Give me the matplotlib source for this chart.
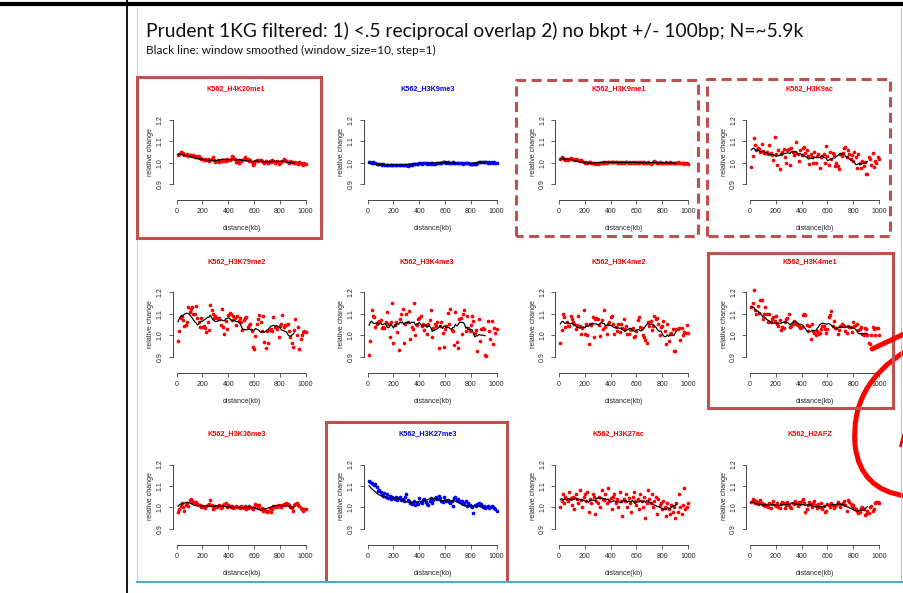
import numpy as np
import matplotlib
matplotlib.use("Agg")
import matplotlib.pyplot as plt
from matplotlib.path import Path
from matplotlib.patches import PathPatch

plt.rcParams['lines.scale_dashes'] = False

W, H = 904, 593

# ---------------- data ----------------
distance_kb = np.arange(10, 1001, 10)

panel_names = ["K562_H4K20me1", "K562_H3K9me3", "K562_H3K9me1", "K562_H3K9ac",
               "K562_H3K79me2", "K562_H3K4me3", "K562_H3K4me2", "K562_H3K4me1",
               "K562_H3K36me3", "K562_H3K27me3", "K562_H3K27ac", "K562_H2AFZ"]
panel_colors = ["#FF0000", "#0000FF", "#FF0000", "#FF0000",
                "#FF0000", "#FF0000", "#FF0000", "#FF0000",
                "#FF0000", "#0000FF", "#FF0000", "#FF0000"]

h4k20me1 = [1.035, 1.040, 1.050, 1.048, 1.045, 1.038, 1.035, 1.040, 1.032, 1.038,
            1.035, 1.030, 1.038, 1.028, 1.032, 1.025, 1.030, 1.022, 1.020, 1.018,
            1.015, 1.020, 1.012, 1.018, 1.010, 1.015, 1.020, 1.025, 1.012, 1.005,
            1.008, 1.012, 1.005, 1.010, 1.015, 1.008, 1.012, 1.010, 1.018, 1.012,
            1.015, 1.020, 1.030, 1.025, 1.018, 1.005, 1.010, 1.000, 1.012, 1.008,
            1.015, 1.020, 1.025, 1.018, 1.020, 1.010, 1.015, 1.005, 0.988, 0.995,
            1.010, 1.015, 1.008, 1.012, 1.015, 1.010, 1.005, 1.000, 1.008, 1.005,
            1.000, 1.010, 1.005, 1.012, 1.008, 1.000, 1.005, 1.010, 0.995, 1.000,
            1.005, 1.010, 1.020, 1.015, 1.010, 1.005, 1.000, 1.008, 1.002, 1.005,
            0.998, 1.005, 1.000, 0.995, 1.002, 1.000, 0.995, 0.992, 1.000, 0.995]

h3k9me3 = [1.005, 1.003, 1.000, 1.002, 0.998, 0.998, 0.995, 0.996, 0.993, 0.994,
           0.992, 0.993, 0.991, 0.992, 0.990, 0.991, 0.990, 0.992, 0.989, 0.990,
           0.990, 0.991, 0.989, 0.990, 0.988, 0.990, 0.991, 0.989, 0.990, 0.988,
           0.987, 0.990, 0.992, 0.991, 0.994, 0.993, 0.995, 0.994, 0.996, 0.997,
           0.999, 0.996, 0.998, 0.997, 0.999, 0.996, 0.998, 0.995, 0.997, 0.998,
           0.994, 0.996, 0.998, 0.997, 0.999, 0.998, 1.000, 1.003, 1.006, 1.002,
           1.000, 1.003, 1.001, 0.999, 1.000, 1.002, 0.999, 1.000, 1.001, 0.998,
           0.999, 0.997, 0.998, 0.996, 0.998, 0.997, 0.999, 0.998, 0.996, 0.995,
           0.994, 0.996, 0.993, 0.995, 0.997, 1.002, 1.004, 1.003, 1.002, 1.004,
           1.002, 1.003, 1.001, 1.002, 1.000, 1.003, 1.001, 1.002, 1.000, 0.999]

h3k9me1 = [1.020, 1.025, 1.022, 1.018, 1.015, 1.020, 1.012, 1.018, 1.022, 1.020,
           1.018, 1.015, 1.017, 1.013, 1.015, 1.010, 1.012, 1.008, 1.005, 1.000,
           1.003, 1.000, 1.005, 1.002, 1.000, 0.998, 1.000, 0.996, 0.998, 0.995,
           0.997, 1.000, 0.998, 1.002, 1.000, 1.003, 1.001, 1.004, 1.002, 1.005,
           1.003, 1.006, 1.004, 1.002, 1.005, 1.000, 1.003, 0.998, 1.002, 1.000,
           1.004, 1.002, 1.005, 1.000, 1.003, 0.998, 1.002, 1.000, 1.004, 1.001,
           1.003, 1.000, 1.005, 1.002, 0.999, 1.003, 1.001, 0.998, 1.002, 0.997,
           0.995, 1.000, 1.003, 1.007, 1.004, 1.000, 0.998, 1.002, 1.000, 0.997,
           1.001, 0.998, 1.003, 0.999, 1.000, 1.002, 0.998, 1.001, 1.000, 0.998,
           1.000, 1.002, 0.999, 0.997, 1.001, 0.998, 0.996, 0.999, 0.997, 0.995]

h3k9ac = [0.980, 1.030, 1.115, 1.085, 1.060, 1.070, 1.065, 1.050, 1.090, 1.055,
          1.048, 1.045, 1.050, 1.040, 1.085, 1.045, 1.035, 1.015, 1.120, 1.040,
          0.990, 1.060, 0.970, 1.040, 1.050, 1.065, 1.025, 1.000, 1.060, 1.065,
          0.990, 1.070, 1.050, 1.035, 1.045, 1.095, 1.040, 1.010, 1.060, 1.035,
          1.070, 1.075, 1.045, 1.060, 1.030, 0.995, 1.040, 1.025, 1.000, 1.050,
          1.000, 1.030, 1.040, 0.975, 1.025, 1.030, 1.040, 1.000, 1.080, 1.030,
          0.990, 1.050, 1.020, 1.045, 1.035, 0.985, 1.000, 0.985, 0.970, 1.040,
          1.030, 1.045, 1.070, 1.075, 1.025, 1.060, 1.040, 1.020, 1.035, 1.010,
          1.050, 1.025, 0.975, 1.040, 1.000, 0.975, 1.010, 0.985, 1.005, 0.950,
          0.950, 1.025, 1.020, 0.990, 1.045, 0.980, 1.010, 1.000, 1.025, 1.020]

h3k79me2 = [0.975, 1.020, 1.080, 1.090, 1.070, 1.045, 1.050, 1.060, 1.130, 1.110,
            1.125, 1.130, 1.100, 1.100, 1.135, 1.080, 1.060, 1.040, 1.080, 1.040,
            1.045, 1.035, 1.015, 1.060, 1.025, 1.140, 1.120, 1.100, 1.080, 1.090,
            1.080, 1.075, 1.080, 1.050, 1.125, 1.040, 1.005, 1.065, 1.030, 1.095,
            1.105, 1.100, 1.070, 1.090, 1.080, 1.050, 1.090, 1.065, 1.080, 1.060,
            1.025, 1.070, 1.080, 1.085, 1.040, 1.050, 1.055, 1.020, 0.945, 0.935,
            0.995, 1.055, 1.075, 1.095, 1.060, 1.020, 1.090, 0.970, 0.940, 1.020,
            0.965, 1.025, 1.030, 1.020, 1.085, 1.040, 1.040, 1.030, 0.990, 1.045,
            1.055, 1.095, 1.040, 1.050, 1.050, 1.055, 1.020, 0.990, 0.965, 0.945,
            1.025, 1.075, 1.000, 1.040, 0.935, 0.985, 1.000, 1.015, 1.020, 1.015]

h3k4me3 = [0.910, 0.975, 1.120, 1.090, 1.085, 1.040, 1.055, 1.060, 1.065, 1.070,
           1.035, 1.040, 1.035, 1.060, 1.110, 1.055, 0.990, 1.060, 1.150, 0.965,
           1.050, 1.060, 1.015, 0.930, 1.075, 1.100, 1.125, 0.965, 1.055, 1.100,
           1.060, 1.115, 0.985, 1.040, 1.030, 1.150, 1.000, 1.050, 1.075, 1.080,
           1.090, 1.045, 1.055, 1.025, 1.050, 1.005, 1.055, 1.070, 1.120, 0.990,
           1.035, 1.055, 1.045, 1.060, 0.940, 1.045, 1.060, 1.010, 0.945, 1.030,
           1.045, 1.105, 1.055, 1.125, 1.025, 1.020, 0.955, 1.110, 0.970, 0.940,
           1.075, 1.080, 1.005, 1.100, 1.120, 1.020, 1.090, 1.035, 1.020, 1.050,
           1.090, 1.065, 1.010, 1.025, 0.925, 1.075, 0.975, 1.030, 1.035, 1.030,
           0.910, 0.905, 1.065, 1.020, 0.985, 1.065, 0.960, 1.035, 1.010, 1.030]

h3k4me2 = [0.965, 1.025, 1.100, 1.085, 1.040, 1.060, 1.045, 1.045, 1.090, 1.075,
           1.060, 1.055, 1.030, 1.050, 1.090, 1.045, 1.005, 1.035, 1.120, 1.005,
           1.055, 1.000, 0.960, 1.055, 1.050, 1.085, 0.990, 1.075, 1.080, 1.075,
           1.050, 0.995, 1.070, 1.030, 1.120, 1.040, 1.005, 1.055, 1.060, 1.085,
           1.090, 1.055, 1.005, 1.040, 1.020, 1.055, 1.015, 1.055, 1.035, 1.075,
           1.030, 1.045, 1.005, 1.005, 1.030, 1.025, 1.035, 0.990, 0.995, 1.020,
           1.070, 1.085, 1.040, 1.035, 1.000, 0.990, 0.980, 0.965, 1.060, 1.045,
           1.065, 1.025, 1.045, 1.090, 1.075, 1.080, 1.055, 1.000, 1.040, 1.045,
           1.065, 1.020, 0.960, 1.055, 0.975, 1.005, 1.010, 1.030, 0.925, 0.925,
           1.030, 1.030, 1.035, 0.980, 1.035, 1.000, 1.015, 1.010, 1.050, 1.010]

h3k4me1 = [1.130, 1.150, 1.210, 1.120, 1.100, 1.135, 1.105, 1.165, 1.165, 1.075,
           1.100, 1.130, 1.100, 1.060, 1.100, 1.060, 1.075, 1.085, 1.065, 1.090,
           1.055, 1.045, 1.070, 1.025, 1.040, 1.035, 1.060, 1.075, 1.080, 1.100,
           1.040, 1.045, 1.055, 1.065, 1.060, 1.055, 1.050, 1.045, 1.035, 1.040,
           1.095, 1.100, 1.095, 1.050, 1.020, 1.045, 0.985, 1.055, 1.020, 1.010,
           1.000, 1.020, 1.005, 1.010, 1.030, 1.045, 1.045, 1.030, 1.010, 1.030,
           1.085, 1.095, 1.115, 1.045, 1.065, 1.035, 1.035, 1.005, 1.025, 1.045,
           1.055, 1.050, 1.045, 1.020, 1.010, 1.045, 1.040, 1.040, 1.015, 1.060,
           1.045, 1.050, 1.055, 1.025, 1.030, 1.040, 1.005, 1.000, 1.035, 1.030,
           1.000, 0.965, 0.960, 1.000, 1.040, 1.030, 1.000, 1.035, 1.035, 1.000]

h3k36me3 = [0.980, 0.990, 1.005, 1.020, 1.000, 0.985, 1.010, 1.020, 1.005, 1.035,
            1.040, 1.030, 1.025, 1.020, 1.025, 1.015, 1.010, 1.010, 1.000, 1.005,
            1.000, 0.995, 1.005, 1.010, 1.015, 1.035, 1.010, 0.990, 0.995, 1.005,
            1.000, 1.005, 1.010, 0.995, 1.000, 1.010, 1.015, 1.020, 1.000, 1.010,
            1.005, 1.000, 1.005, 0.995, 1.000, 1.005, 1.000, 1.000, 0.995, 1.005,
            1.000, 0.995, 1.005, 0.990, 0.995, 1.005, 1.000, 0.995, 0.990, 1.000,
            1.015, 1.010, 0.995, 1.010, 0.990, 0.995, 0.985, 0.990, 0.985, 0.980,
            0.985, 0.995, 0.980, 0.990, 1.005, 1.000, 1.005, 1.000, 1.010, 1.005,
            1.000, 1.010, 1.015, 1.010, 1.020, 1.015, 1.010, 1.000, 0.995, 0.985,
            1.010, 1.015, 1.020, 1.010, 1.005, 0.995, 0.990, 0.985, 0.990, 0.990]

h3k27me3 = [1.125, 1.120, 1.115, 1.110, 1.105, 1.110, 1.095, 1.075, 1.080, 1.070,
            1.060, 1.055, 1.065, 1.050, 1.060, 1.045, 1.055, 1.040, 1.050, 1.045,
            1.040, 1.050, 1.035, 1.045, 1.050, 1.035, 1.040, 1.030, 1.050, 1.060,
            1.035, 1.030, 1.020, 1.015, 1.020, 1.030, 1.010, 1.020, 1.015, 1.045,
            1.025, 1.020, 1.035, 1.040, 1.025, 1.015, 1.010, 1.030, 1.045, 1.020,
            1.035, 1.045, 1.050, 1.040, 1.055, 1.045, 1.030, 1.025, 1.050, 1.035,
            1.030, 1.035, 1.025, 1.020, 1.030, 1.005, 1.045, 1.050, 1.035, 1.040,
            1.030, 1.025, 1.030, 1.020, 1.015, 1.030, 1.005, 1.020, 1.010, 1.005,
            1.000, 0.975, 1.010, 1.005, 1.015, 1.020, 1.010, 1.015, 1.000, 1.005,
            0.995, 1.000, 1.005, 0.995, 1.000, 1.005, 1.000, 0.995, 0.990, 0.985]

h3k27ac = [1.000, 1.030, 1.060, 1.020, 1.050, 1.040, 1.030, 1.070, 1.045, 1.010,
           1.050, 0.990, 1.060, 1.040, 1.020, 1.080, 1.035, 1.000, 1.050, 1.060,
           1.030, 1.070, 0.980, 1.040, 1.020, 1.060, 1.050, 0.970, 1.030, 1.020,
           1.050, 1.000, 1.080, 1.040, 1.035, 1.060, 1.020, 1.090, 1.030, 1.045,
           0.990, 1.050, 1.060, 1.020, 1.040, 1.000, 1.070, 1.030, 0.960, 1.040,
           1.030, 1.060, 1.000, 1.045, 1.020, 0.980, 1.050, 1.070, 1.030, 1.010,
           1.040, 0.990, 1.060, 1.030, 1.000, 1.050, 0.950, 1.020, 1.080, 1.040,
           1.020, 1.060, 1.000, 1.030, 1.050, 0.970, 1.040, 1.010, 1.020, 0.990,
           1.030, 1.000, 0.960, 1.020, 0.990, 0.970, 1.010, 0.980, 1.000, 0.950,
           1.020, 0.980, 1.060, 1.000, 0.970, 1.010, 1.090, 0.990, 1.000, 1.020]

h2afz = [1.025, 1.040, 1.035, 1.020, 1.030, 1.015, 1.025, 1.035, 1.020, 1.010,
         1.015, 1.005, 1.010, 1.000, 1.020, 0.995, 1.015, 1.030, 1.010, 1.005,
         1.020, 1.000, 0.995, 1.015, 1.025, 1.020, 0.995, 1.010, 1.025, 1.010,
         1.000, 0.995, 1.020, 1.015, 1.030, 1.020, 1.005, 1.025, 1.015, 1.030,
         1.040, 1.020, 0.980, 0.990, 1.010, 1.025, 1.015, 1.000, 1.020, 1.030,
         1.010, 0.995, 1.015, 1.000, 1.020, 0.990, 1.005, 0.980, 0.985, 1.015,
         1.010, 1.000, 1.020, 1.010, 0.995, 1.005, 1.010, 1.025, 1.015, 1.000,
         1.015, 1.020, 1.030, 1.010, 0.985, 1.035, 1.025, 1.015, 1.005, 1.010,
         0.995, 0.990, 0.985, 0.975, 0.980, 0.995, 1.000, 0.990, 0.965, 0.970,
         0.985, 0.975, 1.000, 1.005, 0.985, 0.990, 1.020, 1.025, 1.025, 1.020]

panel_values = [h4k20me1, h3k9me3, h3k9me1, h3k9ac,
                h3k79me2, h3k4me3, h3k4me2, h3k4me1,
                h3k36me3, h3k27me3, h3k27ac, h2afz]

window_size = 10
y_ticks = [0.9, 1.0, 1.1, 1.2]
x_ticks = [0, 200, 400, 600, 800, 1000]

# ---------------- layout (pixels) ----------------
col_x0 = [176.7, 367.7, 559.0, 750.0]    # pixel of x = 0
row_y12 = [120.0, 292.5, 464.5]          # pixel of y = 1.2
PX_KB = 0.129
PX_UNIT = 214.0
XLIM = (-29.6, 1039.6)
YLIM = (0.825, 1.275)

fig = plt.figure(figsize=(W / 100, H / 100), dpi=100)
fig.patch.set_facecolor("white")

def fx(px):
    return px / W

def fy(py):
    return 1 - py / H

PANEL_FONT = "Liberation Sans"
TXT = "#262626"
fs = 5.0

for i, (name, col, vals) in enumerate(zip(panel_names, panel_colors, panel_values)):
    r, c = divmod(i, 4)
    x0, y12 = col_x0[c], row_y12[r]
    left = x0 + XLIM[0] * PX_KB
    width = (XLIM[1] - XLIM[0]) * PX_KB
    top = y12 - (YLIM[1] - 1.2) * PX_UNIT
    height = (YLIM[1] - YLIM[0]) * PX_UNIT
    ax = fig.add_axes([fx(left), fy(top + height), width / W, height / H])
    ax.set_facecolor("none")
    ax.set_xlim(*XLIM)
    ax.set_ylim(*YLIM)
    vals = np.asarray(vals)
    ax.scatter(distance_kb, vals, s=7.0, color=col, linewidths=0, zorder=2)
    smooth = np.convolve(vals, np.ones(window_size) / window_size, mode="valid")
    ax.plot(distance_kb[:len(smooth)], smooth, color="black", lw=0.85, zorder=3)
    for s in ("top", "right"):
        ax.spines[s].set_visible(False)
    ax.spines["left"].set_bounds(0.9, 1.2)
    ax.spines["bottom"].set_bounds(0, 1000)
    for s in ("left", "bottom"):
        ax.spines[s].set_color("#444444")
        ax.spines[s].set_linewidth(0.7)
    ax.set_yticks(y_ticks)
    ax.set_yticklabels([f"{v:.1f}" for v in y_ticks], rotation=90, va="center",
                       family=PANEL_FONT, fontsize=fs, color=TXT)
    ax.set_xticks(x_ticks)
    ax.set_xticklabels([str(v) for v in x_ticks], family=PANEL_FONT, fontsize=fs, color=TXT)
    ax.tick_params(axis="both", length=3, width=0.6, color="#444444")
    ax.tick_params(axis="x", pad=2.6)
    ax.tick_params(axis="y", pad=3.6)
    axis_px = top + height
    fig.text(fx(x0 + 65), fy(axis_px + 28.3), "distance(kb)", ha="center", va="center",
             family=PANEL_FONT, fontsize=fs, color=TXT)
    fig.text(fx(x0 - 25.7), fy(y12 + 32), "relative change", ha="center", va="center",
             rotation=90, family=PANEL_FONT, fontsize=fs, color=TXT)
    fig.text(fx(x0 + 59.5), fy(y12 - 31), name, ha="center", va="center",
             family=PANEL_FONT, fontsize=5.2, fontweight="bold", color=col)

# ---------------- overlay (slide decorations) ----------------
ov = fig.add_axes([0, 0, 1, 1], zorder=10)
ov.set_xlim(0, W)
ov.set_ylim(H, 0)
ov.axis("off")
ov.patch.set_alpha(0)

# table lines
ov.plot([0, W], [3.5, 3.5], color="black", lw=3.0, solid_capstyle="butt")
ov.plot([127.5, 127.5], [0, H], color="black", lw=1.3)
# slide borders
ov.plot([137.5, 137.5], [8, 581], color="#D0D0D0", lw=0.8)
ov.plot([901, 901], [8, 581], color="#C8C8C8", lw=0.8)
ov.plot([137.5, W], [581.5, 581.5], color="#4BACC6", lw=1.4)

BOX = "#C0504D"
def box(x1, y1, x2, y2, dashed=False, open_bottom=False):
    xs = [x1, x1, x2, x2] if open_bottom else [x1, x1, x2, x2, x1]
    ys = [y2, y1, y1, y2] if open_bottom else [y2, y1, y1, y2, y2]
    ls = (0, (7.2, 4.0)) if dashed else "-"
    ov.plot(xs, ys, color=BOX, lw=2.2, linestyle=ls, solid_joinstyle="miter",
            dash_capstyle="butt")

box(137, 77, 320.7, 238)
box(516.3, 80, 698, 236, dashed=True)
box(707.5, 79.3, 890, 236, dashed=True)
box(708, 252.7, 892.7, 408.3)
box(326, 422.3, 506.7, 579, open_bottom=True)

# freehand red annotation
ov.plot([872, 906], [349, 333], color="#FF0000", lw=3.6, solid_capstyle="round")
verts = [(906, 351), (850, 385), (855, 445), (860, 490), (906, 496)]
codes = [Path.MOVETO, Path.CURVE3, Path.CURVE3, Path.CURVE3, Path.CURVE3]
ov.add_patch(PathPatch(Path(verts, codes), fill=False, edgecolor="#FF0000", lw=3.6,
                       capstyle="round"))
ov.plot([900.5, 905], [446, 430], color="#FF0000", lw=2.0, solid_capstyle="round")

# slide titles
t1 = ov.text(146, 30.5, "Prudent 1KG filtered: 1) <.5 reciprocal overlap 2) no bkpt +/- 100bp; N=~5.9k",
             ha="left", va="center", family="Lato", fontsize=14.0, color="#111111")
t2 = ov.text(146, 50, "Black line: window smoothed (window_size=10, step=1)",
             ha="left", va="center", family="Lato", fontsize=8.2, color="#111111")

# fit title widths to the slide text extent
fig.canvas.draw()
rend = fig.canvas.get_renderer()
for t, target in ((t1, 660.0), (t2, 288.0)):
    w = t.get_window_extent(rend).width
    t.set_fontsize(t.get_fontsize() * target / w)

fig.savefig("out.png", dpi=100, facecolor="white")
